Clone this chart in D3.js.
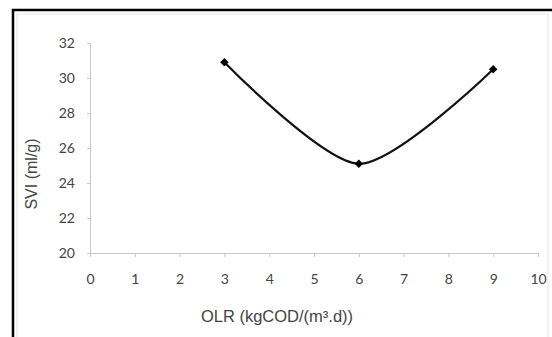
<!DOCTYPE html>
<html><head><meta charset="utf-8">
<script src="https://cdn.jsdelivr.net/npm/d3@7"></script>
<style>body{margin:0;background:#fff}svg{display:block}</style>
</head><body>
<svg id="c" width="552" height="337"></svg>
<script>
const olr = [3, 6, 9];
const svi = [30.9, 25.1, 30.5];
const xTicks = [0,1,2,3,4,5,6,7,8,9,10];
const yTicks = [20,22,24,26,28,30,32];
const xTitle = "OLR (kgCOD/(m³.d))";
const yTitle = "SVI (ml/g)";

const svg = d3.select("#c");
// outer frame
svg.append("rect").attr("x",13).attr("y",10).attr("width",560).attr("height",360)
  .attr("fill","none").attr("stroke","#000").attr("stroke-width",2.5);
svg.append("rect").attr("x",17).attr("y",14).attr("width",531).attr("height",360)
  .attr("fill","none").attr("stroke","#e6e6e6").attr("stroke-width",1);

const x = d3.scaleLinear().domain([0,10]).range([90,538]);
const y = d3.scaleLinear().domain([20,32]).range([253,43]);

const font = "Lato, 'Open Sans', sans-serif";
const gx = svg.append("g").attr("transform","translate(0,253)")
  .call(d3.axisBottom(x).tickValues(xTicks).tickSize(4).tickPadding(17).tickFormat(d3.format("d")));
const gy = svg.append("g").attr("transform","translate(90,0)")
  .call(d3.axisLeft(y).tickValues(yTicks).tickSize(3).tickPadding(12).tickFormat(d3.format("d")));
[gx,gy].forEach(g=>{
  g.select(".domain").attr("stroke","#c8c8c8");
  g.selectAll(".tick line").attr("stroke","#c8c8c8");
  g.selectAll(".tick text").attr("fill","#444").style("font-family",font).style("font-size","14px");
});

svg.append("text").attr("x",277).attr("y",322).attr("text-anchor","middle")
  .style("font-family","'Liberation Sans', Arial, sans-serif").style("font-size","16.5px").attr("fill","#444")
  .text(xTitle);
svg.append("text").attr("transform","translate(37,174) rotate(-90)").attr("text-anchor","middle")
  .style("font-family","'Liberation Sans', Arial, sans-serif").style("font-size","16px").attr("fill","#444")
  .text(yTitle);

const pts = olr.map((v,i)=>[v,svi[i]]);
svg.append("path").datum(pts)
  .attr("d", d3.line().x(d=>x(d[0])).y(d=>y(d[1])).curve(d3.curveCardinal.tension(0.2)))
  .attr("fill","none").attr("stroke","#111").attr("stroke-width",2.2);
svg.selectAll(".m").data(pts).enter().append("path")
  .attr("transform",d=>`translate(${x(d[0])},${y(d[1])}) rotate(45)`)
  .attr("d", d3.symbol(d3.symbolSquare, 36)).attr("fill","#000");
</script>
</body></html>
